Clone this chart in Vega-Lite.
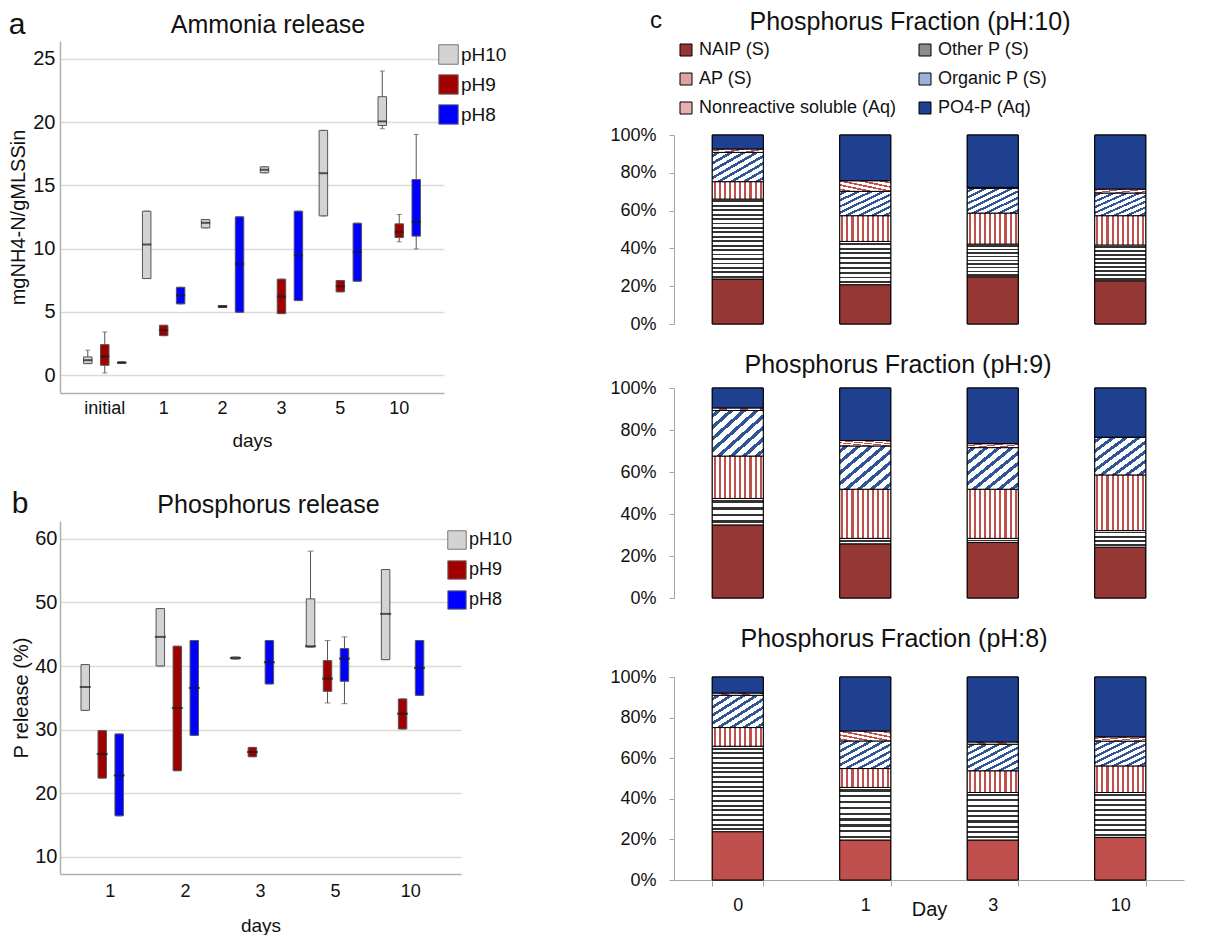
{
  "$schema": "https://vega.github.io/schema/vega-lite/v6.json",
  "background": "white",
  "padding": {"left": 8, "top": 9, "right": 5, "bottom": 0},
  "config": {
    "font": "Liberation Sans",
    "view": {"stroke": null},
    "axis": {"labelFont": "Liberation Sans", "titleFont": "Liberation Sans", "titleFontWeight": "normal", "labelColor": "#111111", "titleColor": "#111111"},
    "legend": {"labelFont": "Liberation Sans", "labelColor": "#111111"},
    "title": {"font": "Liberation Sans", "fontWeight": "normal", "color": "#111111"}
  },
  "params": [
    {"name": "gAP", "value": {"gradient": "linear", "x1": 0, "y1": 0, "x2": 1, "y2": 0, "stops": [
      {"offset": 0.03, "color": "#fff"}, {"offset": 0.03, "color": "#c0504d"}, {"offset": 0.07, "color": "#c0504d"}, {"offset": 0.07, "color": "#fff"},
      {"offset": 0.13, "color": "#fff"}, {"offset": 0.13, "color": "#c0504d"}, {"offset": 0.17, "color": "#c0504d"}, {"offset": 0.17, "color": "#fff"},
      {"offset": 0.23, "color": "#fff"}, {"offset": 0.23, "color": "#c0504d"}, {"offset": 0.27, "color": "#c0504d"}, {"offset": 0.27, "color": "#fff"},
      {"offset": 0.33, "color": "#fff"}, {"offset": 0.33, "color": "#c0504d"}, {"offset": 0.37, "color": "#c0504d"}, {"offset": 0.37, "color": "#fff"},
      {"offset": 0.43, "color": "#fff"}, {"offset": 0.43, "color": "#c0504d"}, {"offset": 0.47, "color": "#c0504d"}, {"offset": 0.47, "color": "#fff"},
      {"offset": 0.53, "color": "#fff"}, {"offset": 0.53, "color": "#c0504d"}, {"offset": 0.57, "color": "#c0504d"}, {"offset": 0.57, "color": "#fff"},
      {"offset": 0.63, "color": "#fff"}, {"offset": 0.63, "color": "#c0504d"}, {"offset": 0.67, "color": "#c0504d"}, {"offset": 0.67, "color": "#fff"},
      {"offset": 0.73, "color": "#fff"}, {"offset": 0.73, "color": "#c0504d"}, {"offset": 0.77, "color": "#c0504d"}, {"offset": 0.77, "color": "#fff"},
      {"offset": 0.83, "color": "#fff"}, {"offset": 0.83, "color": "#c0504d"}, {"offset": 0.87, "color": "#c0504d"}, {"offset": 0.87, "color": "#fff"},
      {"offset": 0.93, "color": "#fff"}, {"offset": 0.93, "color": "#c0504d"}, {"offset": 0.97, "color": "#c0504d"}, {"offset": 0.97, "color": "#fff"}
    ]}},
    {"name": "gOP", "value": {"gradient": "linear", "x1": 0, "y1": 0, "x2": 1, "y2": 1, "stops": [
      {"offset": 0.0375, "color": "#fff"}, {"offset": 0.0375, "color": "#2f5597"}, {"offset": 0.0875, "color": "#2f5597"}, {"offset": 0.0875, "color": "#fff"},
      {"offset": 0.1625, "color": "#fff"}, {"offset": 0.1625, "color": "#2f5597"}, {"offset": 0.2125, "color": "#2f5597"}, {"offset": 0.2125, "color": "#fff"},
      {"offset": 0.2875, "color": "#fff"}, {"offset": 0.2875, "color": "#2f5597"}, {"offset": 0.3375, "color": "#2f5597"}, {"offset": 0.3375, "color": "#fff"},
      {"offset": 0.4125, "color": "#fff"}, {"offset": 0.4125, "color": "#2f5597"}, {"offset": 0.4625, "color": "#2f5597"}, {"offset": 0.4625, "color": "#fff"},
      {"offset": 0.5375, "color": "#fff"}, {"offset": 0.5375, "color": "#2f5597"}, {"offset": 0.5875, "color": "#2f5597"}, {"offset": 0.5875, "color": "#fff"},
      {"offset": 0.6625, "color": "#fff"}, {"offset": 0.6625, "color": "#2f5597"}, {"offset": 0.7125, "color": "#2f5597"}, {"offset": 0.7125, "color": "#fff"},
      {"offset": 0.7875, "color": "#fff"}, {"offset": 0.7875, "color": "#2f5597"}, {"offset": 0.8375, "color": "#2f5597"}, {"offset": 0.8375, "color": "#fff"},
      {"offset": 0.9125, "color": "#fff"}, {"offset": 0.9125, "color": "#2f5597"}, {"offset": 0.9625, "color": "#2f5597"}, {"offset": 0.9625, "color": "#fff"}
    ]}},
    {"name": "gNR", "value": {"gradient": "linear", "x1": 0, "y1": 1, "x2": 1, "y2": 0, "stops": [
      {"offset": 0.06, "color": "#fff"}, {"offset": 0.06, "color": "#c0504d"}, {"offset": 0.14, "color": "#c0504d"}, {"offset": 0.14, "color": "#fff"},
      {"offset": 0.26, "color": "#fff"}, {"offset": 0.26, "color": "#c0504d"}, {"offset": 0.34, "color": "#c0504d"}, {"offset": 0.34, "color": "#fff"},
      {"offset": 0.46, "color": "#fff"}, {"offset": 0.46, "color": "#c0504d"}, {"offset": 0.54, "color": "#c0504d"}, {"offset": 0.54, "color": "#fff"},
      {"offset": 0.66, "color": "#fff"}, {"offset": 0.66, "color": "#c0504d"}, {"offset": 0.74, "color": "#c0504d"}, {"offset": 0.74, "color": "#fff"},
      {"offset": 0.86, "color": "#fff"}, {"offset": 0.86, "color": "#c0504d"}, {"offset": 0.94, "color": "#c0504d"}, {"offset": 0.94, "color": "#fff"}
    ]}},
    {"name": "g18", "value": {"gradient": "linear", "x1": 0, "y1": 0, "x2": 0, "y2": 1, "stops": [
      {"offset": 0.0167, "color": "#fff"}, {"offset": 0.0167, "color": "#333"}, {"offset": 0.0389, "color": "#333"}, {"offset": 0.0389, "color": "#fff"},
      {"offset": 0.0722, "color": "#fff"}, {"offset": 0.0722, "color": "#333"}, {"offset": 0.0944, "color": "#333"}, {"offset": 0.0944, "color": "#fff"},
      {"offset": 0.1278, "color": "#fff"}, {"offset": 0.1278, "color": "#333"}, {"offset": 0.15, "color": "#333"}, {"offset": 0.15, "color": "#fff"},
      {"offset": 0.1833, "color": "#fff"}, {"offset": 0.1833, "color": "#333"}, {"offset": 0.2056, "color": "#333"}, {"offset": 0.2056, "color": "#fff"},
      {"offset": 0.2389, "color": "#fff"}, {"offset": 0.2389, "color": "#333"}, {"offset": 0.2611, "color": "#333"}, {"offset": 0.2611, "color": "#fff"},
      {"offset": 0.2944, "color": "#fff"}, {"offset": 0.2944, "color": "#333"}, {"offset": 0.3167, "color": "#333"}, {"offset": 0.3167, "color": "#fff"},
      {"offset": 0.35, "color": "#fff"}, {"offset": 0.35, "color": "#333"}, {"offset": 0.3722, "color": "#333"}, {"offset": 0.3722, "color": "#fff"},
      {"offset": 0.4056, "color": "#fff"}, {"offset": 0.4056, "color": "#333"}, {"offset": 0.4278, "color": "#333"}, {"offset": 0.4278, "color": "#fff"},
      {"offset": 0.4611, "color": "#fff"}, {"offset": 0.4611, "color": "#333"}, {"offset": 0.4833, "color": "#333"}, {"offset": 0.4833, "color": "#fff"},
      {"offset": 0.5167, "color": "#fff"}, {"offset": 0.5167, "color": "#333"}, {"offset": 0.5389, "color": "#333"}, {"offset": 0.5389, "color": "#fff"},
      {"offset": 0.5722, "color": "#fff"}, {"offset": 0.5722, "color": "#333"}, {"offset": 0.5944, "color": "#333"}, {"offset": 0.5944, "color": "#fff"},
      {"offset": 0.6278, "color": "#fff"}, {"offset": 0.6278, "color": "#333"}, {"offset": 0.65, "color": "#333"}, {"offset": 0.65, "color": "#fff"},
      {"offset": 0.6833, "color": "#fff"}, {"offset": 0.6833, "color": "#333"}, {"offset": 0.7056, "color": "#333"}, {"offset": 0.7056, "color": "#fff"},
      {"offset": 0.7389, "color": "#fff"}, {"offset": 0.7389, "color": "#333"}, {"offset": 0.7611, "color": "#333"}, {"offset": 0.7611, "color": "#fff"},
      {"offset": 0.7944, "color": "#fff"}, {"offset": 0.7944, "color": "#333"}, {"offset": 0.8167, "color": "#333"}, {"offset": 0.8167, "color": "#fff"},
      {"offset": 0.85, "color": "#fff"}, {"offset": 0.85, "color": "#333"}, {"offset": 0.8722, "color": "#333"}, {"offset": 0.8722, "color": "#fff"},
      {"offset": 0.9056, "color": "#fff"}, {"offset": 0.9056, "color": "#333"}, {"offset": 0.9278, "color": "#333"}, {"offset": 0.9278, "color": "#fff"},
      {"offset": 0.9611, "color": "#fff"}, {"offset": 0.9611, "color": "#333"}, {"offset": 0.9833, "color": "#333"}, {"offset": 0.9833, "color": "#fff"}
    ]}},
    {"name": "g9", "value": {"gradient": "linear", "x1": 0, "y1": 0, "x2": 0, "y2": 1, "stops": [
      {"offset": 0.0333, "color": "#fff"}, {"offset": 0.0333, "color": "#333"}, {"offset": 0.0778, "color": "#333"}, {"offset": 0.0778, "color": "#fff"},
      {"offset": 0.1444, "color": "#fff"}, {"offset": 0.1444, "color": "#333"}, {"offset": 0.1889, "color": "#333"}, {"offset": 0.1889, "color": "#fff"},
      {"offset": 0.2556, "color": "#fff"}, {"offset": 0.2556, "color": "#333"}, {"offset": 0.3, "color": "#333"}, {"offset": 0.3, "color": "#fff"},
      {"offset": 0.3667, "color": "#fff"}, {"offset": 0.3667, "color": "#333"}, {"offset": 0.4111, "color": "#333"}, {"offset": 0.4111, "color": "#fff"},
      {"offset": 0.4778, "color": "#fff"}, {"offset": 0.4778, "color": "#333"}, {"offset": 0.5222, "color": "#333"}, {"offset": 0.5222, "color": "#fff"},
      {"offset": 0.5889, "color": "#fff"}, {"offset": 0.5889, "color": "#333"}, {"offset": 0.6333, "color": "#333"}, {"offset": 0.6333, "color": "#fff"},
      {"offset": 0.7, "color": "#fff"}, {"offset": 0.7, "color": "#333"}, {"offset": 0.7444, "color": "#333"}, {"offset": 0.7444, "color": "#fff"},
      {"offset": 0.8111, "color": "#fff"}, {"offset": 0.8111, "color": "#333"}, {"offset": 0.8556, "color": "#333"}, {"offset": 0.8556, "color": "#fff"},
      {"offset": 0.9222, "color": "#fff"}, {"offset": 0.9222, "color": "#333"}, {"offset": 0.9667, "color": "#333"}, {"offset": 0.9667, "color": "#fff"}
    ]}},
    {"name": "g4", "value": {"gradient": "linear", "x1": 0, "y1": 0, "x2": 0, "y2": 1, "stops": [
      {"offset": 0.075, "color": "#fff"}, {"offset": 0.075, "color": "#333"}, {"offset": 0.175, "color": "#333"}, {"offset": 0.175, "color": "#fff"},
      {"offset": 0.325, "color": "#fff"}, {"offset": 0.325, "color": "#333"}, {"offset": 0.425, "color": "#333"}, {"offset": 0.425, "color": "#fff"},
      {"offset": 0.575, "color": "#fff"}, {"offset": 0.575, "color": "#333"}, {"offset": 0.675, "color": "#333"}, {"offset": 0.675, "color": "#fff"},
      {"offset": 0.825, "color": "#fff"}, {"offset": 0.825, "color": "#333"}, {"offset": 0.925, "color": "#333"}, {"offset": 0.925, "color": "#fff"}
    ]}},
    {"name": "g1", "value": {"gradient": "linear", "x1": 0, "y1": 0, "x2": 0, "y2": 1, "stops": [
      {"offset": 0.3, "color": "#fff"}, {"offset": 0.3, "color": "#333"}, {"offset": 0.7, "color": "#333"}, {"offset": 0.7, "color": "#fff"}
    ]}}
  ],
  "datasets": {
    "ammonia": [
      {"day": "initial", "ph": "pH10", "lo": 0.92, "q1": 0.92, "med": 1.19, "q3": 1.45, "hi": 1.98},
      {"day": "initial", "ph": "pH9", "lo": 0.18, "q1": 0.79, "med": 1.48, "q3": 2.42, "hi": 3.42},
      {"day": "initial", "ph": "pH8", "lo": 0.95, "q1": 0.95, "med": 1.0, "q3": 1.05, "hi": 1.05},
      {"day": "1", "ph": "pH10", "lo": 7.64, "q1": 7.64, "med": 10.33, "q3": 12.96, "hi": 12.96},
      {"day": "1", "ph": "pH9", "lo": 3.13, "q1": 3.13, "med": 3.56, "q3": 3.95, "hi": 3.95},
      {"day": "1", "ph": "pH8", "lo": 5.64, "q1": 5.64, "med": 6.32, "q3": 6.95, "hi": 6.95},
      {"day": "2", "ph": "pH10", "lo": 11.64, "q1": 11.64, "med": 12.04, "q3": 12.3, "hi": 12.3},
      {"day": "2", "ph": "pH9", "lo": 5.35, "q1": 5.35, "med": 5.43, "q3": 5.5, "hi": 5.5},
      {"day": "2", "ph": "pH8", "lo": 4.98, "q1": 4.98, "med": 8.8, "q3": 12.51, "hi": 12.51},
      {"day": "3", "ph": "pH10", "lo": 15.99, "q1": 15.99, "med": 16.23, "q3": 16.46, "hi": 16.46},
      {"day": "3", "ph": "pH9", "lo": 4.87, "q1": 4.87, "med": 6.22, "q3": 7.59, "hi": 7.59},
      {"day": "3", "ph": "pH8", "lo": 5.9, "q1": 5.9, "med": 9.46, "q3": 12.96, "hi": 12.96},
      {"day": "5", "ph": "pH10", "lo": 12.59, "q1": 12.59, "med": 15.96, "q3": 19.34, "hi": 19.34},
      {"day": "5", "ph": "pH9", "lo": 6.59, "q1": 6.59, "med": 7.03, "q3": 7.48, "hi": 7.48},
      {"day": "5", "ph": "pH8", "lo": 7.43, "q1": 7.43, "med": 9.72, "q3": 12.01, "hi": 12.01},
      {"day": "10", "ph": "pH10", "lo": 19.47, "q1": 19.73, "med": 20.05, "q3": 22.0, "hi": 24.03},
      {"day": "10", "ph": "pH9", "lo": 10.54, "q1": 10.88, "med": 11.33, "q3": 11.96, "hi": 12.7},
      {"day": "10", "ph": "pH8", "lo": 9.98, "q1": 10.99, "med": 12.12, "q3": 15.46, "hi": 19.02}
    ],
    "phosphorus": [
      {"day": "1", "ph": "pH10", "lo": 33.03, "q1": 33.03, "med": 36.7, "q3": 40.22, "hi": 40.22},
      {"day": "1", "ph": "pH9", "lo": 22.38, "q1": 22.38, "med": 26.16, "q3": 29.83, "hi": 29.83},
      {"day": "1", "ph": "pH8", "lo": 16.45, "q1": 16.45, "med": 22.8, "q3": 29.31, "hi": 29.31},
      {"day": "2", "ph": "pH10", "lo": 40.01, "q1": 40.01, "med": 44.58, "q3": 49.03, "hi": 49.03},
      {"day": "2", "ph": "pH9", "lo": 23.54, "q1": 23.54, "med": 33.4, "q3": 43.11, "hi": 43.11},
      {"day": "2", "ph": "pH8", "lo": 29.1, "q1": 29.1, "med": 36.55, "q3": 44.0, "hi": 44.0},
      {"day": "3", "ph": "pH10", "lo": 41.1, "q1": 41.1, "med": 41.27, "q3": 41.4, "hi": 41.4},
      {"day": "3", "ph": "pH9", "lo": 25.74, "q1": 25.74, "med": 26.47, "q3": 27.2, "hi": 27.2},
      {"day": "3", "ph": "pH8", "lo": 37.18, "q1": 37.18, "med": 40.59, "q3": 44.0, "hi": 44.0},
      {"day": "5", "ph": "pH10", "lo": 43.0, "q1": 43.0, "med": 43.1, "q3": 50.56, "hi": 58.06},
      {"day": "5", "ph": "pH9", "lo": 34.19, "q1": 36.02, "med": 38.02, "q3": 40.85, "hi": 44.0},
      {"day": "5", "ph": "pH8", "lo": 34.08, "q1": 37.6, "med": 41.16, "q3": 42.74, "hi": 44.58},
      {"day": "10", "ph": "pH10", "lo": 41.0, "q1": 41.0, "med": 48.2, "q3": 55.17, "hi": 55.17},
      {"day": "10", "ph": "pH9", "lo": 30.1, "q1": 30.1, "med": 32.51, "q3": 34.82, "hi": 34.82},
      {"day": "10", "ph": "pH8", "lo": 35.39, "q1": 35.39, "med": 39.7, "q3": 44.0, "hi": 44.0}
    ],
    "fracorder": [
      {"fraction": "NAIP (S)", "rank": 1},
      {"fraction": "Other P (S)", "rank": 2},
      {"fraction": "AP (S)", "rank": 3},
      {"fraction": "Organic P (S)", "rank": 4},
      {"fraction": "Nonreactive soluble (Aq)", "rank": 5},
      {"fraction": "PO4-P (Aq)", "rank": 6}
    ],
    "fractions": [
      {"ph": "pH10", "day": "0", "fraction": "NAIP (S)", "pct": 23.8},
      {"ph": "pH10", "day": "0", "fraction": "Other P (S)", "pct": 42.3},
      {"ph": "pH10", "day": "0", "fraction": "AP (S)", "pct": 9.2},
      {"ph": "pH10", "day": "0", "fraction": "Organic P (S)", "pct": 15.5},
      {"ph": "pH10", "day": "0", "fraction": "Nonreactive soluble (Aq)", "pct": 1.8},
      {"ph": "pH10", "day": "0", "fraction": "PO4-P (Aq)", "pct": 7.4},
      {"ph": "pH10", "day": "1", "fraction": "NAIP (S)", "pct": 20.8},
      {"ph": "pH10", "day": "1", "fraction": "Other P (S)", "pct": 22.9},
      {"ph": "pH10", "day": "1", "fraction": "AP (S)", "pct": 13.6},
      {"ph": "pH10", "day": "1", "fraction": "Organic P (S)", "pct": 12.9},
      {"ph": "pH10", "day": "1", "fraction": "Nonreactive soluble (Aq)", "pct": 5.6},
      {"ph": "pH10", "day": "1", "fraction": "PO4-P (Aq)", "pct": 24.2},
      {"ph": "pH10", "day": "3", "fraction": "NAIP (S)", "pct": 25.0},
      {"ph": "pH10", "day": "3", "fraction": "Other P (S)", "pct": 17.3},
      {"ph": "pH10", "day": "3", "fraction": "AP (S)", "pct": 16.4},
      {"ph": "pH10", "day": "3", "fraction": "Organic P (S)", "pct": 13.1},
      {"ph": "pH10", "day": "3", "fraction": "Nonreactive soluble (Aq)", "pct": 0.5},
      {"ph": "pH10", "day": "3", "fraction": "PO4-P (Aq)", "pct": 27.7},
      {"ph": "pH10", "day": "10", "fraction": "NAIP (S)", "pct": 22.9},
      {"ph": "pH10", "day": "10", "fraction": "Other P (S)", "pct": 18.9},
      {"ph": "pH10", "day": "10", "fraction": "AP (S)", "pct": 15.5},
      {"ph": "pH10", "day": "10", "fraction": "Organic P (S)", "pct": 12.0},
      {"ph": "pH10", "day": "10", "fraction": "Nonreactive soluble (Aq)", "pct": 2.1},
      {"ph": "pH10", "day": "10", "fraction": "PO4-P (Aq)", "pct": 28.6},
      {"ph": "pH9", "day": "0", "fraction": "NAIP (S)", "pct": 34.8},
      {"ph": "pH9", "day": "0", "fraction": "Other P (S)", "pct": 12.6},
      {"ph": "pH9", "day": "0", "fraction": "AP (S)", "pct": 20.2},
      {"ph": "pH9", "day": "0", "fraction": "Organic P (S)", "pct": 21.7},
      {"ph": "pH9", "day": "0", "fraction": "Nonreactive soluble (Aq)", "pct": 1.2},
      {"ph": "pH9", "day": "0", "fraction": "PO4-P (Aq)", "pct": 9.5},
      {"ph": "pH9", "day": "1", "fraction": "NAIP (S)", "pct": 25.8},
      {"ph": "pH9", "day": "1", "fraction": "Other P (S)", "pct": 2.6},
      {"ph": "pH9", "day": "1", "fraction": "AP (S)", "pct": 23.4},
      {"ph": "pH9", "day": "1", "fraction": "Organic P (S)", "pct": 20.6},
      {"ph": "pH9", "day": "1", "fraction": "Nonreactive soluble (Aq)", "pct": 2.6},
      {"ph": "pH9", "day": "1", "fraction": "PO4-P (Aq)", "pct": 25.0},
      {"ph": "pH9", "day": "3", "fraction": "NAIP (S)", "pct": 26.5},
      {"ph": "pH9", "day": "3", "fraction": "Other P (S)", "pct": 1.9},
      {"ph": "pH9", "day": "3", "fraction": "AP (S)", "pct": 23.4},
      {"ph": "pH9", "day": "3", "fraction": "Organic P (S)", "pct": 19.8},
      {"ph": "pH9", "day": "3", "fraction": "Nonreactive soluble (Aq)", "pct": 1.9},
      {"ph": "pH9", "day": "3", "fraction": "PO4-P (Aq)", "pct": 26.5},
      {"ph": "pH9", "day": "10", "fraction": "NAIP (S)", "pct": 24.2},
      {"ph": "pH9", "day": "10", "fraction": "Other P (S)", "pct": 7.9},
      {"ph": "pH9", "day": "10", "fraction": "AP (S)", "pct": 26.5},
      {"ph": "pH9", "day": "10", "fraction": "Organic P (S)", "pct": 18.0},
      {"ph": "pH9", "day": "10", "fraction": "Nonreactive soluble (Aq)", "pct": 0.0},
      {"ph": "pH9", "day": "10", "fraction": "PO4-P (Aq)", "pct": 23.4},
      {"ph": "pH8", "day": "0", "fraction": "NAIP (S)", "pct": 23.8},
      {"ph": "pH8", "day": "0", "fraction": "Other P (S)", "pct": 42.1},
      {"ph": "pH8", "day": "0", "fraction": "AP (S)", "pct": 9.2},
      {"ph": "pH8", "day": "0", "fraction": "Organic P (S)", "pct": 15.9},
      {"ph": "pH8", "day": "0", "fraction": "Nonreactive soluble (Aq)", "pct": 1.1},
      {"ph": "pH8", "day": "0", "fraction": "PO4-P (Aq)", "pct": 7.9},
      {"ph": "pH8", "day": "1", "fraction": "NAIP (S)", "pct": 19.7},
      {"ph": "pH8", "day": "1", "fraction": "Other P (S)", "pct": 25.9},
      {"ph": "pH8", "day": "1", "fraction": "AP (S)", "pct": 9.3},
      {"ph": "pH8", "day": "1", "fraction": "Organic P (S)", "pct": 13.6},
      {"ph": "pH8", "day": "1", "fraction": "Nonreactive soluble (Aq)", "pct": 4.9},
      {"ph": "pH8", "day": "1", "fraction": "PO4-P (Aq)", "pct": 26.6},
      {"ph": "pH8", "day": "3", "fraction": "NAIP (S)", "pct": 19.7},
      {"ph": "pH8", "day": "3", "fraction": "Other P (S)", "pct": 23.4},
      {"ph": "pH8", "day": "3", "fraction": "AP (S)", "pct": 10.7},
      {"ph": "pH8", "day": "3", "fraction": "Organic P (S)", "pct": 13.1},
      {"ph": "pH8", "day": "3", "fraction": "Nonreactive soluble (Aq)", "pct": 1.1},
      {"ph": "pH8", "day": "3", "fraction": "PO4-P (Aq)", "pct": 32.0},
      {"ph": "pH8", "day": "10", "fraction": "NAIP (S)", "pct": 21.0},
      {"ph": "pH8", "day": "10", "fraction": "Other P (S)", "pct": 22.1},
      {"ph": "pH8", "day": "10", "fraction": "AP (S)", "pct": 13.1},
      {"ph": "pH8", "day": "10", "fraction": "Organic P (S)", "pct": 12.2},
      {"ph": "pH8", "day": "10", "fraction": "Nonreactive soluble (Aq)", "pct": 2.1},
      {"ph": "pH8", "day": "10", "fraction": "PO4-P (Aq)", "pct": 29.5}
    ]
  },
  "resolve": {"scale": {"color": "independent"}, "legend": {"color": "independent"}},
  "columns": 2,
  "align": "none",
  "spacing": 96,
  "concat": [
    {
      "columns": 1,
      "align": "none",
      "spacing": 39,
      "resolve": {"scale": {"color": "independent"}, "legend": {"color": "independent"}},
      "concat": [
        {
          "title": {"text": "a", "anchor": "start", "fontSize": 30, "offset": -27},
          "resolve": {"scale": {"color": "independent"}, "legend": {"color": "independent"}},
          "vconcat": [
            {
              "width": 384, "height": 352,
              "title": {"text": "Ammonia release", "fontSize": 25, "offset": 3, "dx": 16},
              "data": {"name": "ammonia"},
              "encoding": {
                "x": {"field": "day", "type": "nominal", "sort": ["initial", "1", "2", "3", "5", "10"],
                  "scale": {"paddingInner": 0, "paddingOuter": 0.26},
                  "axis": {"title": "days", "labelAngle": 0, "labelFontSize": 18, "titleFontSize": 19, "ticks": false, "labelPadding": 6, "titlePadding": 14, "domainColor": "#b0b0b0", "domainWidth": 1.5}},
                "xOffset": {"field": "ph", "type": "nominal", "sort": ["pH10", "pH9", "pH8"], "scale": {"paddingInner": 0.5, "paddingOuter": 0.485}}
              },
              "layer": [
                {"mark": {"type": "rule", "color": "#555555", "strokeWidth": 1},
                  "encoding": {
                    "y": {"field": "lo", "type": "quantitative", "scale": {"domain": [-1.4, 26.4], "nice": false, "zero": false},
                      "axis": {"title": "mgNH4-N/gMLSSin", "titleFontSize": 20, "labelFontSize": 20, "values": [0, 5, 10, 15, 20, 25], "grid": true, "gridColor": "#dadada", "gridWidth": 1.5, "ticks": false, "domainColor": "#b0b0b0", "domainWidth": 1.5, "labelPadding": 5, "titlePadding": 4}},
                    "y2": {"field": "hi"}}},
                {"mark": {"type": "tick", "color": "#555555", "size": 5, "thickness": 1}, "encoding": {"y": {"field": "lo", "type": "quantitative"}}},
                {"mark": {"type": "tick", "color": "#555555", "size": 5, "thickness": 1}, "encoding": {"y": {"field": "hi", "type": "quantitative"}}},
                {"mark": {"type": "bar", "stroke": "#555555", "strokeWidth": 1},
                  "encoding": {
                    "y": {"field": "q1", "type": "quantitative"}, "y2": {"field": "q3"},
                    "color": {"field": "ph", "type": "nominal", "scale": {"domain": ["pH10", "pH9", "pH8"], "range": ["#d3d3d3", "#a00000", "#0000ff"]},
                      "legend": {"title": null, "orient": "none", "legendX": 378, "legendY": 3, "symbolType": "square", "symbolSize": 380, "symbolStrokeColor": "#777777", "symbolStrokeWidth": 1, "symbolOpacity": 1, "labelFontSize": 19, "rowPadding": 5, "labelOffset": 2}}}},
                {"mark": {"type": "tick", "color": "#1a1a1a", "size": 9, "thickness": 2}, "encoding": {"y": {"field": "med", "type": "quantitative"}}}
              ]
            }
          ]
        },
        {
          "title": {"text": "b", "anchor": "start", "fontSize": 30, "offset": -26},
          "resolve": {"scale": {"color": "independent"}, "legend": {"color": "independent"}},
          "vconcat": [
            {
              "width": 401, "height": 353,
              "title": {"text": "Phosphorus release", "fontSize": 25, "offset": 3, "dx": 8},
              "data": {"name": "phosphorus"},
              "encoding": {
                "x": {"field": "day", "type": "nominal", "sort": ["1", "2", "3", "5", "10"],
                  "scale": {"paddingInner": 0, "paddingOuter": 0.17},
                  "axis": {"title": "days", "labelAngle": 0, "labelFontSize": 18, "titleFontSize": 19, "ticks": false, "labelPadding": 8, "titlePadding": 16, "domainColor": "#b0b0b0", "domainWidth": 1.5}},
                "xOffset": {"field": "ph", "type": "nominal", "sort": ["pH10", "pH9", "pH8"], "scale": {"paddingInner": 0.47, "paddingOuter": 0.61}}
              },
              "layer": [
                {"mark": {"type": "rule", "color": "#555555", "strokeWidth": 1},
                  "encoding": {
                    "y": {"field": "lo", "type": "quantitative", "scale": {"domain": [7.3, 62.8], "nice": false, "zero": false},
                      "axis": {"title": "P release (%)", "titleFontSize": 20, "labelFontSize": 20, "values": [10, 20, 30, 40, 50, 60], "grid": true, "gridColor": "#dadada", "gridWidth": 1.5, "ticks": false, "domainColor": "#b0b0b0", "domainWidth": 1.5, "labelPadding": 3, "titlePadding": 3}},
                    "y2": {"field": "hi"}}},
                {"mark": {"type": "tick", "color": "#555555", "size": 6, "thickness": 1}, "encoding": {"y": {"field": "lo", "type": "quantitative"}}},
                {"mark": {"type": "tick", "color": "#555555", "size": 6, "thickness": 1}, "encoding": {"y": {"field": "hi", "type": "quantitative"}}},
                {"mark": {"type": "bar", "stroke": "#555555", "strokeWidth": 1},
                  "encoding": {
                    "y": {"field": "q1", "type": "quantitative"}, "y2": {"field": "q3"},
                    "color": {"field": "ph", "type": "nominal", "scale": {"domain": ["pH10", "pH9", "pH8"], "range": ["#d3d3d3", "#a00000", "#0000ff"]},
                      "legend": {"title": null, "orient": "none", "legendX": 387, "legendY": 9, "symbolType": "square", "symbolSize": 340, "symbolStrokeColor": "#777777", "symbolStrokeWidth": 1, "symbolOpacity": 1, "labelFontSize": 18, "rowPadding": 6, "labelOffset": 2}}}},
                {"mark": {"type": "tick", "color": "#1a1a1a", "size": 11, "thickness": 2}, "encoding": {"y": {"field": "med", "type": "quantitative"}}}
              ]
            }
          ]
        }
      ]
    },
    {
      "title": {"text": "c", "anchor": "start", "fontSize": 24, "offset": -23, "dx": 40},
      "spacing": 20,
      "resolve": {"scale": {"color": "independent"}, "legend": {"color": "independent"}},
      "vconcat": [
        {
          "width": 510, "height": 283,
          "title": {"text": "Phosphorus Fraction (pH:10)", "fontSize": 25, "offset": 6, "dx": -19},
          "data": {"name": "fractions"},
          "transform": [
            {"filter": "datum.ph === 'pH10'"},
            {"lookup": "fraction", "from": {"data": {"name": "fracorder"}, "key": "fraction", "fields": ["rank"]}}
          ],
          "encoding": {
            "x": {"field": "day", "type": "nominal", "sort": ["0", "1", "3", "10"], "scale": {"paddingInner": 0.6, "paddingOuter": 0.3}, "axis": null},
            "y": {"field": "pct", "type": "quantitative", "stack": "normalize", "scale": {"domain": [0, 1], "nice": false, "range": [283, 94]},
              "axis": {"title": null, "values": [0, 0.2, 0.4, 0.6, 0.8, 1], "format": ".0%", "grid": false, "domainColor": "#a6a6a6", "tickColor": "#a6a6a6", "tickSize": 5, "labelFontSize": 18, "labelPadding": 13}},
            "order": {"field": "rank", "type": "quantitative"},
            "detail": {"field": "fraction", "type": "nominal"}
          },
          "layer": [
            {"mark": {"type": "bar", "stroke": "#000000", "strokeWidth": 1},
              "encoding": {"color": {"field": "fraction", "type": "nominal",
                "scale": {"domain": ["NAIP (S)", "Other P (S)", "AP (S)", "Organic P (S)", "Nonreactive soluble (Aq)", "PO4-P (Aq)"], "range": ["#953735", "#8c8c8c", "#e0a3a3", "#9bb3d9", "#e8b0b0", "#1f3f8f"]},
                "legend": {"title": null, "orient": "none", "direction": "horizontal", "legendX": 3, "legendY": 0, "columns": 2, "symbolType": "square", "symbolSize": 144, "symbolStrokeColor": "#000000", "symbolStrokeWidth": 1, "symbolOpacity": 1, "labelFontSize": 18, "labelLimit": 320, "rowPadding": 11, "columnPadding": 19, "labelOffset": 4}}}},
            {"mark": {"type": "bar", "stroke": "#000000", "strokeWidth": 1},
              "encoding": {"fill": {"condition": [
                {"test": "datum.fraction === 'AP (S)'", "value": {"expr": "gAP"}},
                {"test": "datum.fraction === 'Organic P (S)'", "value": {"expr": "gOP"}},
                {"test": "datum.fraction === 'Nonreactive soluble (Aq)'", "value": {"expr": "gNR"}},
                {"test": "datum.fraction === 'Other P (S)' && datum.pct >= 30", "value": {"expr": "g18"}},
                {"test": "datum.fraction === 'Other P (S)' && datum.pct >= 14", "value": {"expr": "g9"}},
                {"test": "datum.fraction === 'Other P (S)' && datum.pct >= 5", "value": {"expr": "g4"}},
                {"test": "datum.fraction === 'Other P (S)'", "value": {"expr": "g1"}},
                {"test": "datum.fraction === 'PO4-P (Aq)'", "value": "#1f3f8f"},
                {"test": "datum.ph === 'pH8'", "value": "#c0504d"}
              ], "value": "#953735"}}}
          ]
        },
        {
          "width": 510, "height": 210,
          "title": {"text": "Phosphorus Fraction (pH:9)", "fontSize": 25, "offset": 1, "dx": -31},
          "data": {"name": "fractions"},
          "transform": [
            {"filter": "datum.ph === 'pH9'"},
            {"lookup": "fraction", "from": {"data": {"name": "fracorder"}, "key": "fraction", "fields": ["rank"]}}
          ],
          "encoding": {
            "x": {"field": "day", "type": "nominal", "sort": ["0", "1", "3", "10"], "scale": {"paddingInner": 0.6, "paddingOuter": 0.3}, "axis": null},
            "y": {"field": "pct", "type": "quantitative", "stack": "normalize", "scale": {"domain": [0, 1], "nice": false},
              "axis": {"title": null, "values": [0, 0.2, 0.4, 0.6, 0.8, 1], "format": ".0%", "grid": false, "domainColor": "#a6a6a6", "tickColor": "#a6a6a6", "tickSize": 5, "labelFontSize": 18, "labelPadding": 13}},
            "order": {"field": "rank", "type": "quantitative"},
            "detail": {"field": "fraction", "type": "nominal"}
          },
          "layer": [
            {"mark": {"type": "bar", "stroke": "#000000", "strokeWidth": 1},
              "encoding": {"color": {"field": "fraction", "type": "nominal",
                "scale": {"domain": ["NAIP (S)", "Other P (S)", "AP (S)", "Organic P (S)", "Nonreactive soluble (Aq)", "PO4-P (Aq)"], "range": ["#953735", "#8c8c8c", "#e0a3a3", "#9bb3d9", "#e8b0b0", "#1f3f8f"]},
                "legend": null}}},
            {"mark": {"type": "bar", "stroke": "#000000", "strokeWidth": 1},
              "encoding": {"fill": {"condition": [
                {"test": "datum.fraction === 'AP (S)'", "value": {"expr": "gAP"}},
                {"test": "datum.fraction === 'Organic P (S)'", "value": {"expr": "gOP"}},
                {"test": "datum.fraction === 'Nonreactive soluble (Aq)'", "value": {"expr": "gNR"}},
                {"test": "datum.fraction === 'Other P (S)' && datum.pct >= 30", "value": {"expr": "g18"}},
                {"test": "datum.fraction === 'Other P (S)' && datum.pct >= 14", "value": {"expr": "g9"}},
                {"test": "datum.fraction === 'Other P (S)' && datum.pct >= 5", "value": {"expr": "g4"}},
                {"test": "datum.fraction === 'Other P (S)'", "value": {"expr": "g1"}},
                {"test": "datum.fraction === 'PO4-P (Aq)'", "value": "#1f3f8f"},
                {"test": "datum.ph === 'pH8'", "value": "#c0504d"}
              ], "value": "#953735"}}}
          ]
        },
        {
          "width": 510, "height": 203,
          "title": {"text": "Phosphorus Fraction (pH:8)", "fontSize": 25, "offset": 16, "dx": -35},
          "data": {"name": "fractions"},
          "transform": [
            {"filter": "datum.ph === 'pH8'"},
            {"lookup": "fraction", "from": {"data": {"name": "fracorder"}, "key": "fraction", "fields": ["rank"]}}
          ],
          "encoding": {
            "x": {"field": "day", "type": "nominal", "sort": ["0", "1", "3", "10"], "scale": {"paddingInner": 0.6, "paddingOuter": 0.3},
              "axis": {"title": "Day", "labelAngle": 0, "labelFontSize": 18, "titleFontSize": 20, "tickBand": "extent", "tickSize": 6, "tickColor": "#a6a6a6", "domainColor": "#a6a6a6", "labelPadding": 10, "titleY": 35, "titleBaseline": "alphabetic"}},
            "y": {"field": "pct", "type": "quantitative", "stack": "normalize", "scale": {"domain": [0, 1], "nice": false},
              "axis": {"title": null, "values": [0, 0.2, 0.4, 0.6, 0.8, 1], "format": ".0%", "grid": false, "domainColor": "#a6a6a6", "tickColor": "#a6a6a6", "tickSize": 5, "labelFontSize": 18, "labelPadding": 13}},
            "order": {"field": "rank", "type": "quantitative"},
            "detail": {"field": "fraction", "type": "nominal"}
          },
          "layer": [
            {"mark": {"type": "bar", "stroke": "#000000", "strokeWidth": 1},
              "encoding": {"color": {"field": "fraction", "type": "nominal",
                "scale": {"domain": ["NAIP (S)", "Other P (S)", "AP (S)", "Organic P (S)", "Nonreactive soluble (Aq)", "PO4-P (Aq)"], "range": ["#953735", "#8c8c8c", "#e0a3a3", "#9bb3d9", "#e8b0b0", "#1f3f8f"]},
                "legend": null}}},
            {"mark": {"type": "bar", "stroke": "#000000", "strokeWidth": 1},
              "encoding": {"fill": {"condition": [
                {"test": "datum.fraction === 'AP (S)'", "value": {"expr": "gAP"}},
                {"test": "datum.fraction === 'Organic P (S)'", "value": {"expr": "gOP"}},
                {"test": "datum.fraction === 'Nonreactive soluble (Aq)'", "value": {"expr": "gNR"}},
                {"test": "datum.fraction === 'Other P (S)' && datum.pct >= 30", "value": {"expr": "g18"}},
                {"test": "datum.fraction === 'Other P (S)' && datum.pct >= 14", "value": {"expr": "g9"}},
                {"test": "datum.fraction === 'Other P (S)' && datum.pct >= 5", "value": {"expr": "g4"}},
                {"test": "datum.fraction === 'Other P (S)'", "value": {"expr": "g1"}},
                {"test": "datum.fraction === 'PO4-P (Aq)'", "value": "#1f3f8f"},
                {"test": "datum.ph === 'pH8'", "value": "#c0504d"}
              ], "value": "#953735"}}}
          ]
        }
      ]
    }
  ]
}
